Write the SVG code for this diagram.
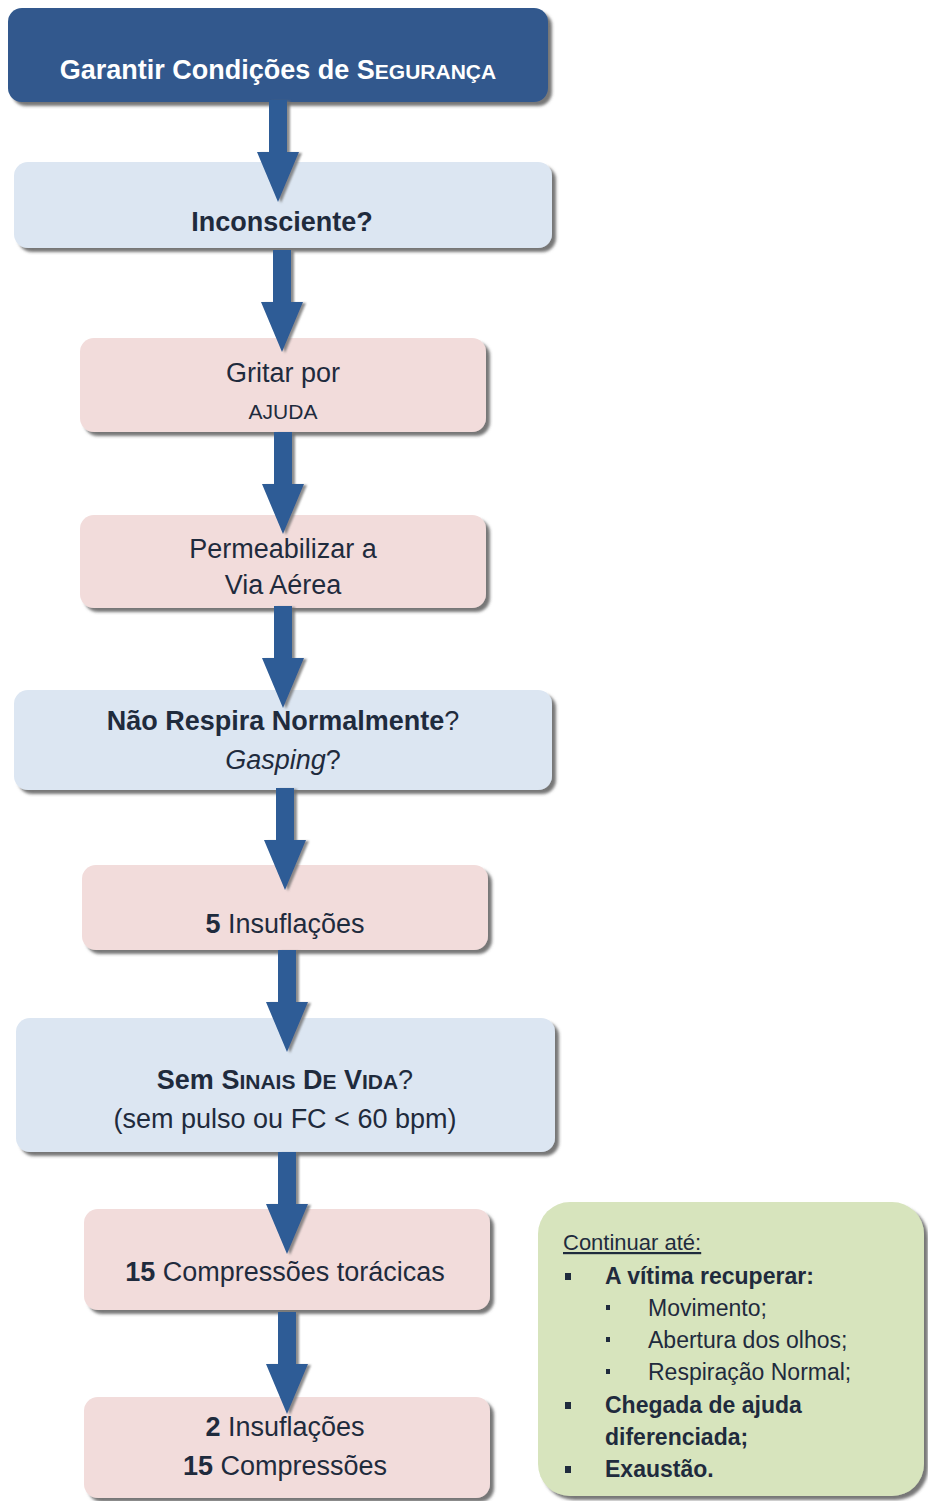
<svg xmlns="http://www.w3.org/2000/svg" width="928" height="1501" viewBox="0 0 928 1501">
<style>
.t{font-family:"Liberation Sans",Arial,sans-serif;fill:#1f2b3d;text-anchor:middle}
.n{font-size:27px}
.b{font-weight:bold}
.sc{font-size:21px}
.g{font-family:"Liberation Sans",Arial,sans-serif;fill:#1f2b3d;font-size:23px}
.dark{fill:#30598d}
.blue{fill:#dce6f2}
.pink{fill:#f2dcdb}
.green{fill:#d7e4bd}
.arr{fill:#2e5c96}
</style>
<defs>
<filter id="sh" x="-5%" y="-10%" width="115%" height="130%">
<feDropShadow dx="4" dy="4" stdDeviation="1.5" flood-color="#4a4a4a" flood-opacity="0.75"/>
</filter>
<filter id="ash" x="-30%" y="-10%" width="160%" height="130%">
<feDropShadow dx="3" dy="1" stdDeviation="0.8" flood-color="#707070" flood-opacity="0.8"/>
</filter>
<path id="arrow" d="M-9,0 H9 V52 H21 L0,102 L-21,52 H-9 Z"/>
</defs>
<rect width="928" height="1501" fill="#ffffff"/>

<g id="n1">
<rect class="dark" x="8" y="8" width="540" height="94" rx="14" filter="url(#sh)"/>
<text class="t n b" x="278" y="79" style="fill:#ffffff">Garantir Condições de S<tspan class="sc">EGURANÇA</tspan></text>
</g>
<g id="n2">
<rect class="blue" x="14" y="162" width="538" height="86" rx="14" filter="url(#sh)"/>
<text class="t n b" x="282" y="231">Inconsciente?</text>
</g>
<g id="n3">
<rect class="pink" x="80" y="338" width="406" height="94" rx="14" filter="url(#sh)"/>
<text class="t n" x="283" y="382">Gritar por</text>
<text class="t sc" x="283" y="419">AJUDA</text>
</g>
<g id="n4">
<rect class="pink" x="80" y="515" width="406" height="93" rx="14" filter="url(#sh)"/>
<text class="t n" x="283" y="558">Permeabilizar a</text>
<text class="t n" x="283" y="594">Via Aérea</text>
</g>
<g id="n5">
<rect class="blue" x="14" y="690" width="538" height="100" rx="14" filter="url(#sh)"/>
<text class="t n" x="283" y="730"><tspan class="b">Não Respira Normalmente</tspan>?</text>
<text class="t n" x="283" y="769"><tspan font-style="italic">Gasping</tspan>?</text>
</g>
<g id="n6">
<rect class="pink" x="82" y="865" width="406" height="85" rx="14" filter="url(#sh)"/>
<text class="t n" x="285" y="933"><tspan class="b">5</tspan> Insuflações</text>
</g>
<g id="n7">
<rect class="blue" x="16" y="1018" width="539" height="134" rx="14" filter="url(#sh)"/>
<text class="t n" x="285" y="1089"><tspan class="b">Sem S<tspan class="sc">INAIS</tspan> D<tspan class="sc">E</tspan> V<tspan class="sc">IDA</tspan></tspan>?</text>
<text class="t n" x="285" y="1128">(sem pulso ou FC &lt; 60 bpm)</text>
</g>
<g id="n8">
<rect class="pink" x="84" y="1209" width="406" height="101" rx="14" filter="url(#sh)"/>
<text class="t n" x="285" y="1281"><tspan class="b">15</tspan> Compressões torácicas</text>
</g>
<g id="n9">
<rect class="pink" x="84" y="1397" width="406" height="101" rx="14" filter="url(#sh)"/>
<text class="t n" x="285" y="1436"><tspan class="b">2</tspan> Insuflações</text>
<text class="t n" x="285" y="1475"><tspan class="b">15</tspan> Compressões</text>
</g>
<g id="note">
<rect class="green" x="538" y="1202" width="386" height="294" rx="32" filter="url(#sh)"/>
<text class="g" x="563" y="1250" style="font-size:22px;text-decoration:underline">Continuar até:</text>
<rect x="565" y="1273" width="6" height="7" fill="#1f2b3d"/>
<text class="g b" x="605" y="1284">A vítima recuperar:</text>
<rect x="606" y="1305" width="4" height="5" fill="#1f2b3d"/>
<text class="g" x="648" y="1316">Movimento;</text>
<rect x="606" y="1337" width="4" height="5" fill="#1f2b3d"/>
<text class="g" x="648" y="1348">Abertura dos olhos;</text>
<rect x="606" y="1369" width="4" height="5" fill="#1f2b3d"/>
<text class="g" x="648" y="1380">Respiração Normal;</text>
<rect x="565" y="1402" width="6" height="7" fill="#1f2b3d"/>
<text class="g b" x="605" y="1413">Chegada de ajuda</text>
<text class="g b" x="605" y="1445">diferenciada;</text>
<rect x="565" y="1466" width="6" height="7" fill="#1f2b3d"/>
<text class="g b" x="605" y="1477">Exaustão.</text>
</g>

<g id="connectors" class="arr" filter="url(#ash)">
<use href="#arrow" x="278" y="100"/>
<use href="#arrow" x="282" y="250"/>
<use href="#arrow" x="283" y="432"/>
<use href="#arrow" x="283" y="606"/>
<use href="#arrow" x="285" y="788"/>
<use href="#arrow" x="287" y="950"/>
<use href="#arrow" x="287" y="1152"/>
<use href="#arrow" x="287" y="1312"/>
</g>
</svg>
